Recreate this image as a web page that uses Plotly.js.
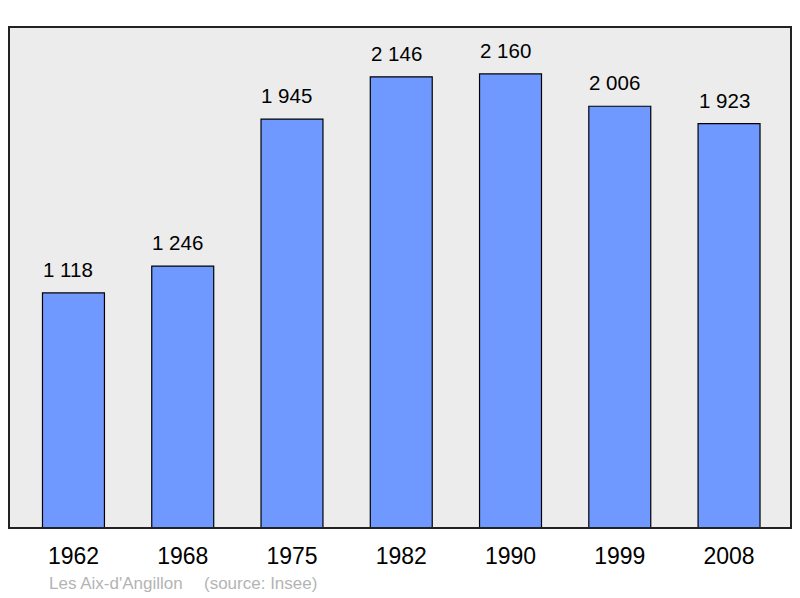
<!DOCTYPE html>
<html>
<head>
<meta charset="utf-8">
<script src="https://cdn.plot.ly/plotly-3.0.1.min.js"></script>
<style>html,body{margin:0;padding:0;background:#fff;}#chart{width:800px;height:598px;}</style>
</head>
<body>
<div id="chart"></div>
<script>
var years = ["1962", "1968", "1975", "1982", "1990", "1999", "2008"];
var population = [1118, 1246, 1945, 2146, 2160, 2006, 1923];
var commune = "Les Aix-d'Angillon";
var source = "(source: Insee)";

function fmt(v) {
  return String(v).replace(/\B(?=(\d{3})+(?!\d))/g, " ");
}

var FONT = "Liberation Sans, Arial, sans-serif";

var trace = {
  type: "bar",
  x: years,
  y: population,
  width: 0.567,
  marker: { color: "#7099ff", line: { color: "#000", width: 1.2 } },
  hoverinfo: "none"
};

var annotations = years.map(function (yr, i) {
  return {
    x: i, y: population[i], xref: "x", yref: "y",
    text: fmt(population[i]), showarrow: false,
    yanchor: "bottom", yshift: 10, xshift: -5,
    font: { family: FONT, size: 20.5, color: "#000" }
  };
});
var srcY = -(590 - 528) / 501;
annotations.push({
  xref: "paper", yref: "paper", x: (47 - 8.5) / 782.5, y: srcY,
  xanchor: "left", yanchor: "bottom", yshift: -5, text: commune, showarrow: false,
  font: { family: FONT, size: 17, color: "#b4b4b4" }
});
annotations.push({
  xref: "paper", yref: "paper", x: (202 - 8.5) / 782.5, y: srcY,
  xanchor: "left", yanchor: "bottom", yshift: -5, text: source, showarrow: false,
  font: { family: FONT, size: 17, color: "#b4b4b4" }
});

var layout = {
  width: 800, height: 598,
  margin: { l: 8.5, r: 9, t: 27, b: 70, pad: 0 },
  paper_bgcolor: "#fff",
  plot_bgcolor: "#ececec",
  showlegend: false,
  xaxis: {
    type: "category",
    range: [-0.59, 6.567],
    showgrid: false, zeroline: false, showline: false,
    ticks: "", ticklabelstandoff: 12,
    tickfont: { family: FONT, size: 23, color: "#000" },
    fixedrange: true
  },
  yaxis: {
    range: [0, 2383],
    showgrid: false, zeroline: false, showline: false,
    showticklabels: false, ticks: "",
    fixedrange: true
  },
  shapes: [{
    type: "rect", xref: "paper", yref: "paper",
    x0: 0, x1: 1, y0: 0, y1: 1,
    line: { color: "#222", width: 2 }, layer: "above"
  }],
  annotations: annotations
};

Plotly.newPlot("chart", [trace], layout, { staticPlot: true, displayModeBar: false });
</script>
</body>
</html>
